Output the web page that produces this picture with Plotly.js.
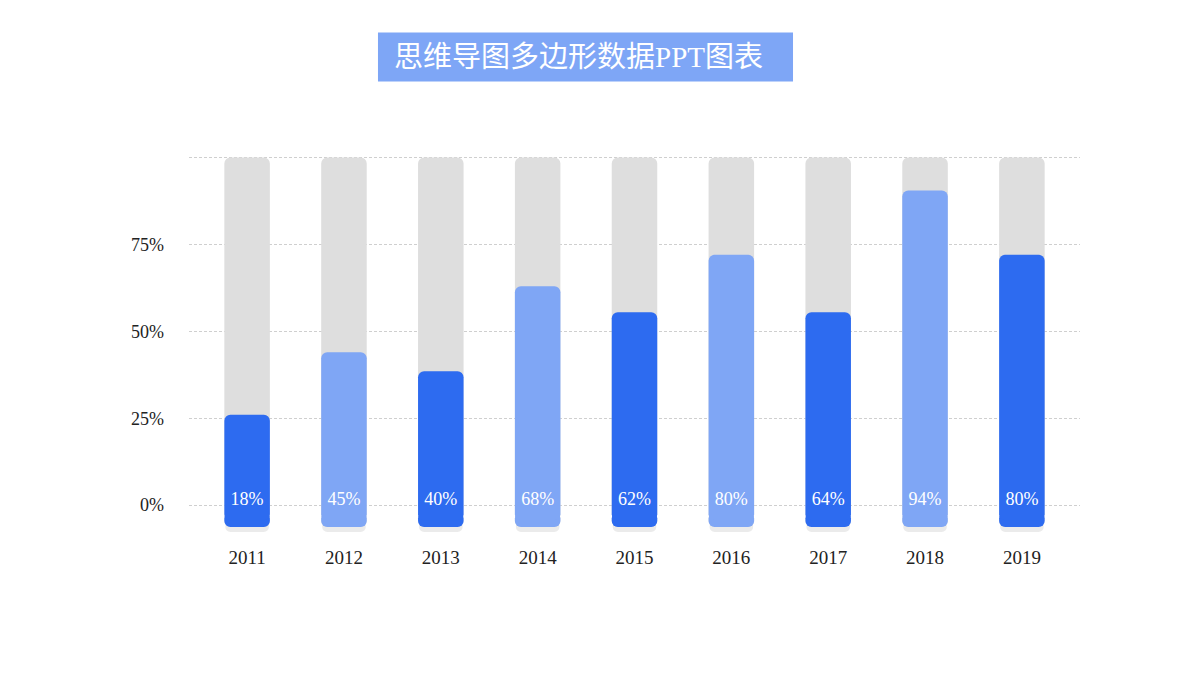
<!DOCTYPE html>
<html>
<head>
<meta charset="utf-8">
<script src="https://cdn.plot.ly/plotly-3.0.1.min.js"></script>
<style>
  html, body { margin: 0; padding: 0; background: #ffffff; }
  #chart { width: 1200px; height: 675px; }
</style>
</head>
<body>
<div id="chart"></div>
<script>
// years on the x axis
var years = ['2011', '2012', '2013', '2014', '2015', '2016', '2017', '2018', '2019'];
// text printed inside each bar
var labels = ['18%', '45%', '40%', '68%', '62%', '80%', '64%', '94%', '80%'];
// where each coloured bar actually ends on the % axis
var barTops = [26, 44, 38.5, 63, 55.5, 72, 55.5, 90.5, 72];
// bars alternate dark / light blue
var barColors = ['#2d6bf0', '#7fa6f5', '#2d6bf0', '#7fa6f5', '#2d6bf0', '#7fa6f5', '#2d6bf0', '#7fa6f5', '#2d6bf0'];
var barBase = -6.3;
var fullTop = 100;
var labelY = 1.4;

// a bar = main body (rounded top) + short downward cap (rounded bottom)
function roundBar(bottom, tops, color, width, radius) {
  var bodyBase = bottom + 2, capBase = bottom + 4.2;
  var body = [], cap = [];
  for (var i = 0; i < tops.length; i++) {
    body.push(tops[i] - bodyBase);
    cap.push(bottom - capBase);
  }
  var capTrace = {
    x: years, y: cap, base: capBase,
    type: 'bar', width: width,
    marker: {color: color, cornerradius: radius},
    hoverinfo: 'skip'
  };
  var bodyTrace = {
    x: years, y: body, base: bodyBase,
    type: 'bar', width: width,
    marker: {color: color, cornerradius: radius},
    hoverinfo: 'skip'
  };
  return [capTrace, bodyTrace];
}

var trackTops = [], shadow = [], labelYs = [];
for (var i = 0; i < years.length; i++) {
  trackTops.push(fullTop);
  shadow.push(3);
  labelYs.push(labelY);
}

var serif = '"Liberation Serif", "DejaVu Serif", serif';

var shadowTrace = {
  x: years, y: shadow, base: -7.7,
  type: 'bar', width: 0.45,
  marker: {color: 'rgba(0,0,0,0.08)', cornerradius: 5},
  hoverinfo: 'skip'
};

var textTrace = {
  x: years, y: labelYs,
  type: 'scatter', mode: 'text',
  text: labels,
  textposition: 'middle center',
  textfont: {family: serif, size: 18, color: '#ffffff'},
  hoverinfo: 'skip'
};

var data = [shadowTrace]
  .concat(roundBar(barBase, trackTops, '#dedede', 0.47, 6))
  .concat(roundBar(barBase, barTops, barColors, 0.47, 6))
  .concat([textTrace]);

var layout = {
  width: 1200,
  height: 675,
  margin: {l: 189, r: 120, t: 153.5, b: 142.2},
  paper_bgcolor: '#ffffff',
  plot_bgcolor: '#ffffff',
  showlegend: false,
  barmode: 'overlay',
  xaxis: {
    type: 'category',
    range: [-0.6, 8.6],
    showgrid: false,
    zeroline: false,
    showline: false,
    ticks: '',
    ticklabelstandoff: 11,
    tickfont: {family: serif, size: 19, color: '#222222'}
  },
  yaxis: {
    range: [-8, 101],
    tickvals: [0, 25, 50, 75, 100],
    ticktext: ['0%', '25%', '50%', '75%', ''],
    showgrid: true,
    gridcolor: '#cfcfcf',
    griddash: '3px,2px',
    gridwidth: 1,
    zeroline: false,
    showline: false,
    ticks: '',
    ticklabelstandoff: 24,
    tickfont: {family: serif, size: 18, color: '#222222'}
  },
  shapes: [{
    type: 'rect', xref: 'paper', yref: 'paper',
    x0: 0.2121, x1: 0.6779, y0: 1.1911, y1: 1.3203,
    fillcolor: '#7ea6f6', line: {width: 0}, layer: 'above'
  }],
  annotations: [{
    xref: 'paper', yref: 'paper',
    x: 0.2278, y: 1.2557,
    xanchor: 'left', yanchor: 'middle',
    showarrow: false,
    text: '思维导图多边形数据PPT图表',
    font: {family: '"Liberation Serif", "Noto Sans CJK SC", serif', size: 29, color: '#ffffff'}
  }]
};

Plotly.newPlot('chart', data, layout, {displayModeBar: false, staticPlot: true});
</script>
</body>
</html>
